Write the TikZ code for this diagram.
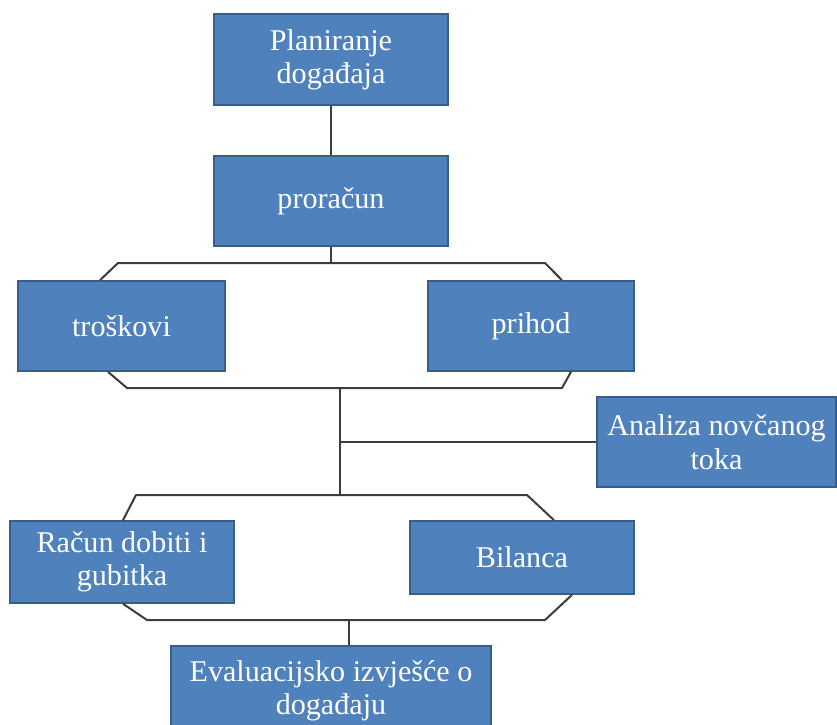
\documentclass[tikz,border=0pt]{standalone}
\usepackage{fontspec}
\setmainfont{Liberation Serif}
\usepackage{xcolor}
\definecolor{boxblue}{RGB}{79,129,189}
\definecolor{boxedge}{RGB}{56,93,138}
\definecolor{linegray}{RGB}{60,60,60}
\usepackage{tikz}
\usetikzlibrary{calc}

\tikzset{
  blok/.style={draw=boxedge, fill=boxblue, line width=1.2pt, text=white, align=center, inner sep=0pt, font=\fontsize{22.6}{25}\selectfont},
  veza/.style={draw=linegray, line width=1.5pt, line join=round}
}

\begin{document}
\begin{tikzpicture}[x=0.75pt,y=-0.75pt]
            \useasboundingbox (0,0) rectangle (837,724);

            % Top boxes
            \node[blok, minimum width=175.5pt, minimum height=68.25pt] (plan) at (331,59.5) {Planiranje\\događaja};
            \node[blok, minimum width=175.5pt, minimum height=67.5pt] (prorac) at (331,201) {proračun};

            % Budget parts
            \node[blok, minimum width=155.25pt, minimum height=67.5pt] (trosk) at (121.5,326) {troškovi};
            \node[blok, minimum width=154.5pt, minimum height=67.5pt] (prihod) at (531,326) {prihod};
            \node[blok, minimum width=179.25pt, minimum height=67.5pt] (analiza) at (716.5,442) {Analiza novčanog\\toka};

            % Statements
            \node[blok, minimum width=168pt, minimum height=61.5pt] (racun) at (122,562) {Račun dobiti i\\gubitka};
            \node[blok, minimum width=168pt, minimum height=54.75pt] (bilanca) at (522,557.5) {Bilanca};
            \node[blok, minimum width=240pt, minimum height=66.75pt] (eval) at (331,690.5) {Evaluacijsko izvješće o\\događaju};

            % Bend points
            \coordinate (g1l) at (118,263);
            \coordinate (g1r) at (545,263);
            \coordinate (d1l) at (127,388);
            \coordinate (d1r) at (562,388);
            \coordinate (g2l) at (136,495);
            \coordinate (g2r) at (527,495);
            \coordinate (d2l) at (147,620);
            \coordinate (d2r) at (545,620);
            \coordinate (t1) at (340,388);
            \coordinate (t2) at (340,495);
            \coordinate (t3) at (349,620);

            % Connectors
            \draw[veza] (plan.south) -- (prorac.north);
            \draw[veza] (prorac.south) -- (prorac.south |- g1l);
            \draw[veza] ($(trosk.north)+(-21.5,0)$) -- (g1l) -- (g1r) -- ($(prihod.north)+(31,0)$);
            \draw[veza] ($(trosk.south)+(-13.5,0)$) -- (d1l) -- (d1r) -- ($(prihod.south)+(40,0)$);
            \draw[veza] (t1) -- (t2);
            \draw[veza] (analiza.west) -- (analiza.west -| t1);
            \draw[veza] ($(racun.north)+(1,0)$) -- (g2l) -- (g2r) -- ($(bilanca.north)+(32,0)$);
            \draw[veza] ($(racun.south)+(1,0)$) -- (d2l) -- (d2r) -- ($(bilanca.south)+(50,0)$);
            \draw[veza] (t3) -- (t3 |- eval.north);
        \end{tikzpicture}
\end{document}
